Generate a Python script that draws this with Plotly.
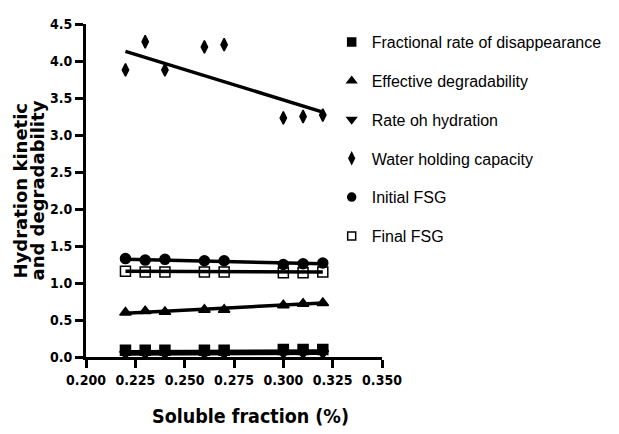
import plotly.graph_objects as go

x = [0.22, 0.23, 0.24, 0.26, 0.27, 0.30, 0.31, 0.32]
frac_rate = [0.09, 0.09, 0.09, 0.09, 0.09, 0.10, 0.10, 0.10]
eff_deg = [0.60, 0.62, 0.61, 0.64, 0.64, 0.70, 0.72, 0.73]
rate_hyd = [0.04, 0.04, 0.04, 0.04, 0.04, 0.05, 0.05, 0.05]
whc = [3.88, 4.26, 3.88, 4.19, 4.22, 3.23, 3.25, 3.27]
init_fsg = [1.33, 1.31, 1.32, 1.30, 1.30, 1.25, 1.26, 1.27]
final_fsg = [1.16, 1.15, 1.15, 1.15, 1.15, 1.14, 1.14, 1.15]

# regression line end points (at x = 0.22 and x = 0.32)
fit_x = [0.22, 0.32]
frac_fit = [0.07, 0.08]
eff_fit = [0.59, 0.73]
rate_fit = [0.04, 0.05]
whc_fit = [4.13, 3.31]
init_fit = [1.32, 1.26]
final_fit = [1.16, 1.15]

series = [
    ("Fractional rate of disappearance", frac_rate, frac_fit, "square"),
    ("Effective degradability", eff_deg, eff_fit, "triangle-up"),
    ("Rate oh hydration", rate_hyd, rate_fit, "triangle-down"),
    ("Water holding capacity", whc, whc_fit, "diamond-tall"),
    ("Initial FSG", init_fsg, init_fit, "circle"),
    ("Final FSG", final_fsg, final_fit, "square-open"),
]

COND = "DejaVu Sans Condensed, Liberation Sans"
TICKFONT = dict(size=14, family=COND, weight="bold")
fig = go.Figure()
for name, ys, fit, sym in series:
    fig.add_trace(go.Scatter(x=fit_x, y=fit, mode="lines",
                             line=dict(color="black", width=3.5),
                             showlegend=False, hoverinfo="skip"))
for i, (name, ys, fit, sym) in enumerate(series):
    sz = 9 if sym == "diamond-tall" else 10
    fig.add_trace(go.Scatter(x=x, y=ys, mode="markers", name=name,
                             showlegend=False,
                             marker=dict(symbol=sym, size=sz, color="black",
                                         line=dict(color="black", width=1.5))))
for i, (name, ys, fit, sym) in enumerate(series):
    fig.add_trace(go.Scatter(x=[None], y=[None], mode="markers", name=name,
                             legendgroup=str(i),
                             marker=dict(symbol=sym, size=8, color="black",
                                         line=dict(color="black", width=1.5))))

fig.update_layout(
    width=619, height=434,
    margin=dict(l=86, r=232, t=24, b=77),
    plot_bgcolor="white", paper_bgcolor="white",
    font=dict(family="Liberation Sans, Arial", color="black", size=16),
    legend=dict(x=0.83, y=0.997, xanchor="left", yanchor="top",
                font=dict(size=16, family="Liberation Sans, Arial"),
                tracegroupgap=15, maxheight=1,
                bgcolor="rgba(0,0,0,0)"),
    xaxis=dict(range=[0.2, 0.35], dtick=0.025, tick0=0.2, tickformat=".3f",
               tickangle=0,
               showgrid=False, zeroline=False, showline=True, linecolor="black",
               linewidth=3, ticks="outside", ticklen=8, tickwidth=3,
               tickcolor="black", tickfont=TICKFONT, automargin=False),
    yaxis=dict(range=[0, 4.5], dtick=0.5, tickformat=".1f",
               showgrid=False, zeroline=False, showline=True, linecolor="black",
               linewidth=3, ticks="outside", ticklen=8, tickwidth=3,
               tickcolor="black", tickfont=TICKFONT, automargin=False),
    annotations=[
        dict(text="<b>Soluble fraction (%)</b>", xref="paper", yref="paper",
             x=0.555, y=-0.18, xanchor="center", yanchor="middle", showarrow=False,
             font=dict(size=19.5, family=COND)),
        dict(text="<b>Hydration kinetic</b>", xref="paper", yref="paper",
             x=0, y=0.5, xshift=-66, textangle=-90, xanchor="center",
             yanchor="middle", showarrow=False,
             font=dict(size=18, family="DejaVu Sans")),
        dict(text="<b>and degradability</b>", xref="paper", yref="paper",
             x=0, y=0.5, xshift=-49, textangle=-90, xanchor="center",
             yanchor="middle", showarrow=False,
             font=dict(size=18, family="DejaVu Sans")),
    ],
)

fig.write_html("out.html")
